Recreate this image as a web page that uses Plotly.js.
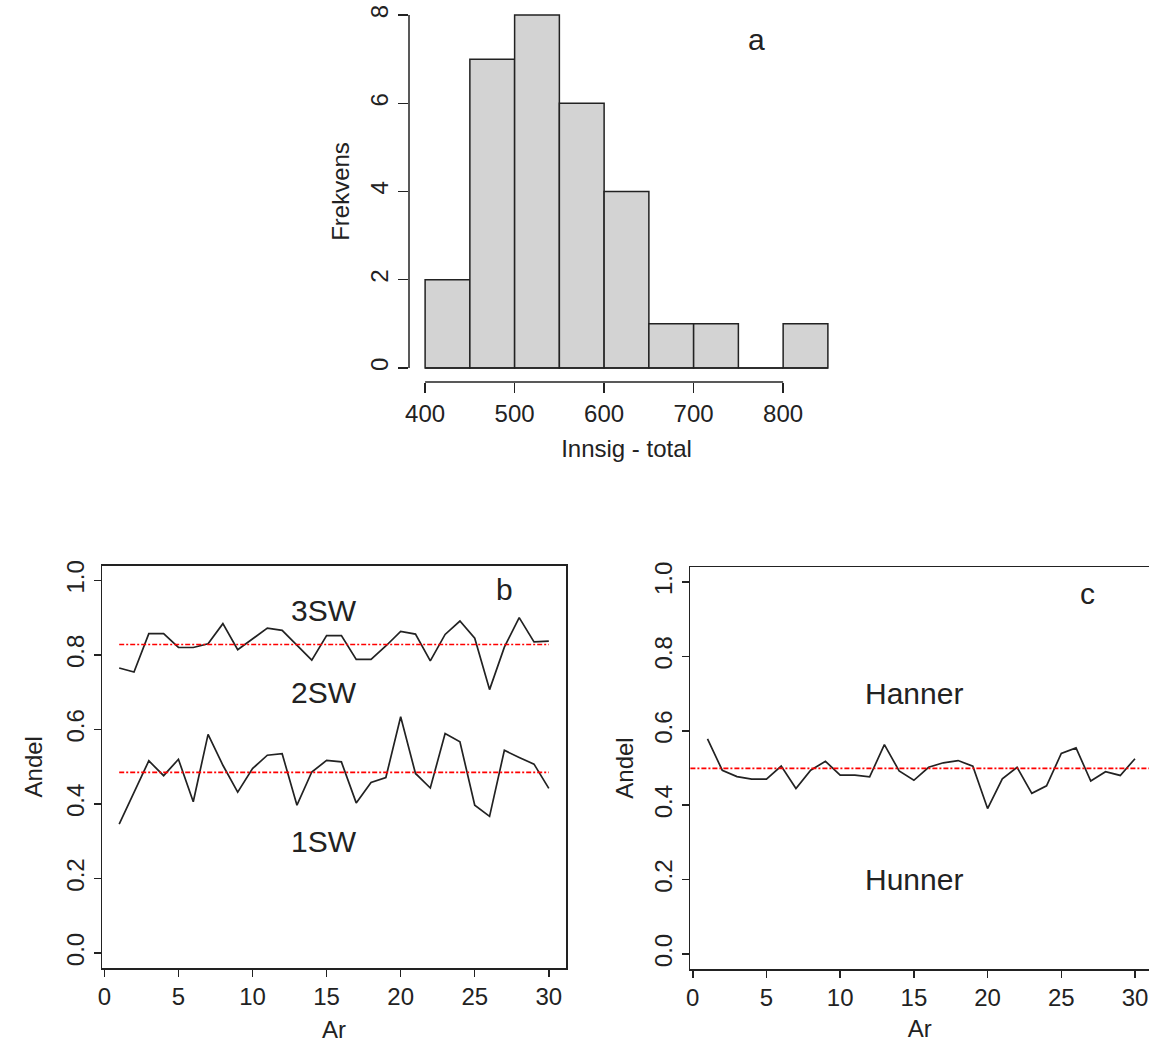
<!DOCTYPE html>
<html>
<head>
<meta charset="utf-8">
<script src="https://cdn.plot.ly/plotly-3.0.1.min.js"></script>
<style>html,body{margin:0;padding:0;background:#fff;}</style>
</head>
<body>
<div id="chart" style="width:1149px;height:1050px;"></div>
<script>
// ---- Panel a: histogram of total run (Innsig - total) ----
const binStart = [400, 450, 500, 550, 600, 650, 700, 750, 800];
const binWidth = 50;
const freq = [2, 7, 8, 6, 4, 1, 1, 0, 1];
const histTicks = [400, 500, 600, 700, 800];
const freqTicks = [0, 2, 4, 6, 8];

// ---- Panels b and c: yearly proportions ----
const years = [1,2,3,4,5,6,7,8,9,10,11,12,13,14,15,16,17,18,19,20,21,22,23,24,25,26,27,28,29,30];
// upper line in b (boundary 2SW / 3SW)
const sw12 = [0.765,0.754,0.857,0.857,0.820,0.820,0.830,0.884,0.814,0.844,0.872,0.866,0.826,0.786,0.852,
              0.852,0.788,0.788,0.824,0.863,0.856,0.784,0.855,0.891,0.845,0.707,0.821,0.900,0.835,0.837];
// lower line in b (boundary 1SW / 2SW)
const sw1 = [0.346,0.432,0.516,0.476,0.520,0.406,0.587,0.504,0.432,0.495,0.531,0.535,0.397,0.486,0.517,
             0.513,0.403,0.458,0.471,0.634,0.482,0.443,0.589,0.567,0.397,0.367,0.544,0.525,0.507,0.442];
const meanSW12 = 0.828;
const meanSW1 = 0.485;
// panel c: share of males (Hanner / Hunner boundary)
const hanner = [0.578,0.494,0.477,0.470,0.470,0.505,0.445,0.494,0.518,0.481,0.481,0.476,0.563,0.492,0.467,
                0.502,0.514,0.520,0.505,0.391,0.471,0.502,0.432,0.452,0.539,0.554,0.465,0.490,0.480,0.525];
const meanHanner = 0.499;

const yearTicks = [0, 5, 10, 15, 20, 25, 30];
const andelTicks = [0, 0.2, 0.4, 0.6, 0.8, 1.0];
const andelLabels = ["0.0", "0.2", "0.4", "0.6", "0.8", "1.0"];

// ---- styling ----
const FONT = "Liberation Sans, Arial, Helvetica, sans-serif";
const INK = "#222";
const W = 1149, H = 1050;
const px = v => v / W;            // pixel -> paper x
const py = v => 1 - v / H;        // pixel -> paper y

const tickFont = {family: FONT, size: 24, color: INK};
const titleFont = {family: FONT, size: 24, color: INK};

const lineStyle = {color: INK, width: 1.7};
const redStyle = {color: "#ff0000", width: 1.6, dash: "5px,2px,2px,2px"};

const traces = [
  // histogram bars
  {type: "bar", x: binStart, y: freq, offset: 0, width: binWidth,
   marker: {color: "#d3d3d3", line: {color: INK, width: 1.5}},
   xaxis: "x", yaxis: "y", hoverinfo: "x+y"},
  // baseline of histogram (R draws zero-height bins as a line)
  {type: "scatter", mode: "lines",
   x: [binStart[0], binStart[binStart.length - 1] + binWidth], y: [0, 0],
   line: {color: INK, width: 1.5}, xaxis: "x", yaxis: "y", hoverinfo: "skip"},
  // panel b
  {type: "scatter", mode: "lines", x: years, y: sw12, line: lineStyle, xaxis: "x2", yaxis: "y2", name: "2SW/3SW"},
  {type: "scatter", mode: "lines", x: years, y: sw1, line: lineStyle, xaxis: "x2", yaxis: "y2", name: "1SW/2SW"},
  {type: "scatter", mode: "lines", x: years, y: years.map(() => meanSW12), line: redStyle, xaxis: "x2", yaxis: "y2", hoverinfo: "skip"},
  {type: "scatter", mode: "lines", x: years, y: years.map(() => meanSW1), line: redStyle, xaxis: "x2", yaxis: "y2", hoverinfo: "skip"},
  // panel c
  {type: "scatter", mode: "lines", x: years, y: hanner, line: lineStyle, xaxis: "x3", yaxis: "y3", name: "Hanner"}
];

const boxAxis = {
  showgrid: false, zeroline: false, showline: true, linecolor: INK, linewidth: 1.5,
  ticks: "outside", ticklen: 7, tickwidth: 1.5, tickcolor: INK, tickfont: tickFont
};

const layout = {
  width: W, height: H,
  margin: {l: 0, r: 0, t: 0, b: 0},
  paper_bgcolor: "#fff", plot_bgcolor: "#fff",
  showlegend: false,
  bargap: 0,
  // panel a
  xaxis: {domain: [px(409), px(844)], range: [382, 868], anchor: "y",
          tickmode: "array", tickvals: histTicks, ticks: "outside", ticklen: 10, tickwidth: 1.5, tickcolor: INK,
          showline: false, showgrid: false, zeroline: false, tickfont: tickFont,
          title: {text: "Innsig - total", font: titleFont, standoff: 14}},
  yaxis: {domain: [py(382), py(1)], range: [-0.32, 8.32], anchor: "x",
          tickmode: "array", tickvals: freqTicks, tickangle: -90, ticks: "outside", ticklen: 10, tickwidth: 1.5, tickcolor: INK,
          showline: false, showgrid: false, zeroline: false, tickfont: tickFont,
          title: {text: "Frekvens", font: titleFont, standoff: 10}},
  // panel b
  xaxis2: Object.assign({}, boxAxis, {domain: [px(102), px(566)], range: [-0.16, 31.16], anchor: "y2", mirror: true,
          tickmode: "array", tickvals: yearTicks,
          title: {text: "Ar", font: titleFont, standoff: 12}}),
  yaxis2: Object.assign({}, boxAxis, {domain: [py(968), py(565.5)], range: [-0.04, 1.04], anchor: "x2", mirror: true,
          tickmode: "array", tickvals: andelTicks, ticktext: andelLabels, tickangle: -90,
          title: {text: "Andel", font: titleFont, standoff: 12}}),
  // panel c (right border lies outside the picture, as in the original)
  xaxis3: Object.assign({}, boxAxis, {domain: [px(690.4), 1], range: [-0.16, 30.95], anchor: "y3", mirror: true,
          tickmode: "array", tickvals: yearTicks, ticklabeloverflow: "allow",
          title: {text: "Ar", font: titleFont, standoff: 10}}),
  yaxis3: Object.assign({}, boxAxis, {domain: [py(969), py(567)], range: [-0.04, 1.04], anchor: "x3", mirror: false,
          tickmode: "array", tickvals: andelTicks, ticktext: andelLabels, tickangle: -90,
          title: {text: "Andel", font: titleFont, standoff: 10}}),
  shapes: [
    // R-style axis lines for the histogram (only between first and last tick)
    {type: "line", xref: "x", yref: "y domain", x0: histTicks[0], x1: histTicks[histTicks.length - 1], y0: 0, y1: 0,
     line: {color: INK, width: 1.5}},
    {type: "line", xref: "x domain", yref: "y", x0: 0, x1: 0, y0: freqTicks[0], y1: freqTicks[freqTicks.length - 1],
     line: {color: INK, width: 1.5}},
    // mean line across panel c
    {type: "line", xref: "x3 domain", yref: "y3", x0: 0, x1: 1, y0: meanHanner, y1: meanHanner,
     line: redStyle}
  ],
  annotations: [
    {text: "a", xref: "x", yref: "y", x: 770, y: 7.45, showarrow: false, font: {family: FONT, size: 30, color: INK}},
    {text: "b", xref: "x2", yref: "y2", x: 27, y: 0.975, showarrow: false, font: {family: FONT, size: 30, color: INK}},
    {text: "c", xref: "x3", yref: "y3", x: 26.8, y: 0.97, showarrow: false, font: {family: FONT, size: 30, color: INK}},
    {text: "3SW", xref: "x2", yref: "y2", x: 14.8, y: 0.92, showarrow: false, font: {family: FONT, size: 30, color: INK}},
    {text: "2SW", xref: "x2", yref: "y2", x: 14.8, y: 0.70, showarrow: false, font: {family: FONT, size: 30, color: INK}},
    {text: "1SW", xref: "x2", yref: "y2", x: 14.8, y: 0.30, showarrow: false, font: {family: FONT, size: 30, color: INK}},
    {text: "Hanner", xref: "x3", yref: "y3", x: 15, y: 0.70, showarrow: false, font: {family: FONT, size: 30, color: INK}},
    {text: "Hunner", xref: "x3", yref: "y3", x: 15, y: 0.20, showarrow: false, font: {family: FONT, size: 30, color: INK}}
  ]
};

Plotly.newPlot("chart", traces, layout, {displayModeBar: false, staticPlot: true});
</script>
</body>
</html>
